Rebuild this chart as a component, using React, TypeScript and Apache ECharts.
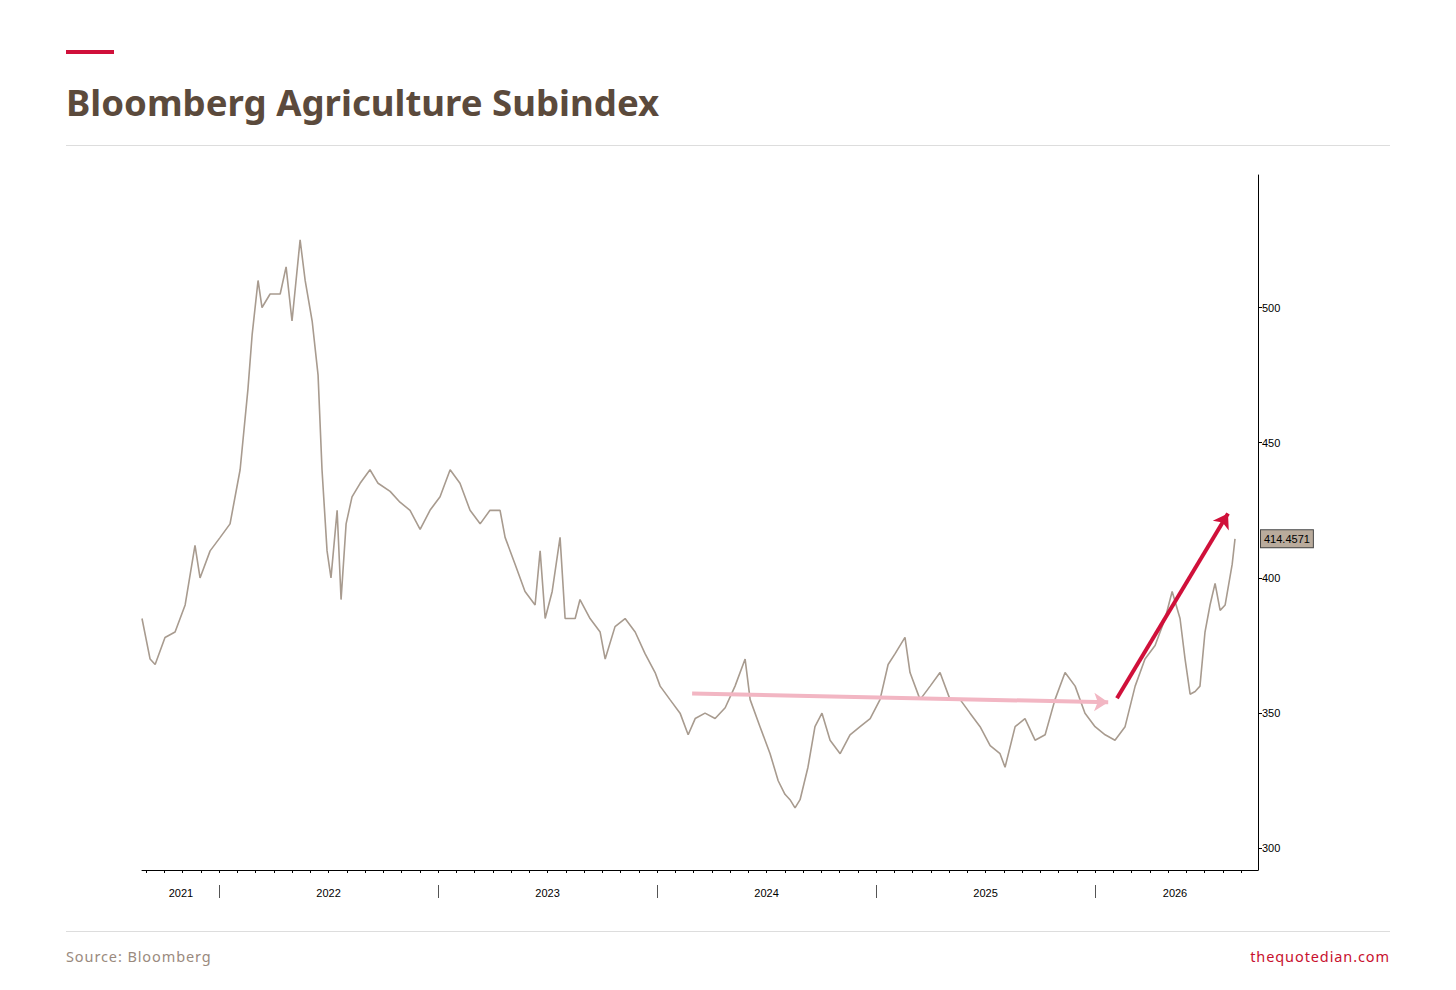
import React, { useEffect, useRef } from 'react';
import * as echarts from 'echarts';

// decimal years and index levels
const dates = [
  2021.648, 2021.685, 2021.708, 2021.753, 2021.799, 2021.845, 2021.89, 2021.913, 2021.959, 2022.005,
  2022.05, 2022.096, 2022.132, 2022.151, 2022.178, 2022.196, 2022.233, 2022.279, 2022.306, 2022.333,
  2022.37, 2022.393, 2022.425, 2022.452, 2022.47, 2022.493, 2022.511, 2022.539, 2022.557, 2022.58,
  2022.607, 2022.644, 2022.689, 2022.726, 2022.781, 2022.826, 2022.872, 2022.918, 2022.963, 2023.009,
  2023.055, 2023.1, 2023.146, 2023.192, 2023.237, 2023.283, 2023.306, 2023.352, 2023.397, 2023.443,
  2023.466, 2023.489, 2023.521, 2023.557, 2023.58, 2023.626, 2023.648, 2023.694, 2023.74, 2023.763,
  2023.808, 2023.854, 2023.9, 2023.945, 2023.991, 2024.014, 2024.059, 2024.105, 2024.142, 2024.174,
  2024.219, 2024.265, 2024.311, 2024.356, 2024.402, 2024.425, 2024.47, 2024.516, 2024.553, 2024.584,
  2024.607, 2024.63, 2024.653, 2024.689, 2024.721, 2024.753, 2024.79, 2024.836, 2024.881, 2024.927,
  2024.973, 2025.018, 2025.055, 2025.087, 2025.132, 2025.155, 2025.201, 2025.247, 2025.292, 2025.338,
  2025.384, 2025.429, 2025.475, 2025.521, 2025.566, 2025.589, 2025.635, 2025.68, 2025.726, 2025.772,
  2025.817, 2025.863, 2025.909, 2025.954, 2026.0, 2026.046, 2026.091, 2026.137, 2026.183, 2026.228,
  2026.274, 2026.32, 2026.352, 2026.388, 2026.411, 2026.434, 2026.457, 2026.479, 2026.502, 2026.525,
  2026.548, 2026.571, 2026.594, 2026.626, 2026.639,
];
const values = [
  385, 370, 368, 378, 380, 390, 412, 400, 410, 415,
  420, 440, 470, 490, 510, 500, 505, 505, 515, 495,
  525, 510, 495, 475, 440, 410, 400, 425, 392, 420,
  430, 435, 440, 435, 432, 428, 425, 418, 425, 430,
  440, 435, 425, 420, 425, 425, 415, 405, 395, 390,
  410, 385, 395, 415, 385, 385, 392, 385, 380, 370,
  382, 385, 380, 372, 365, 360, 355, 350, 342, 348,
  350, 348, 352, 360, 370, 355, 345, 335, 325, 320,
  318, 315, 318, 330, 345, 350, 340, 335, 342, 345,
  348, 355, 368, 372, 378, 365, 355, 360, 365, 355,
  355, 350, 345, 338, 335, 330, 345, 348, 340, 342,
  355, 365, 360, 350, 345, 342, 340, 345, 360, 370,
  375, 385, 395, 385, 370, 357, 358, 360, 380, 390,
  398, 388, 390, 405, 414.4571,
];
const yTicks = [300, 350, 400, 450, 500];
const yearLabelPos = [2021.826, 2022.5, 2023.5, 2024.5, 2025.5, 2026.365];
const yearBreaks = [2022, 2023, 2024, 2025, 2026];
const flatArrow = [[2024.16, 357.3], [2026.06, 354]];
const upArrow = [[2026.1, 355.5], [2026.607, 423.8]];
const lastLabel = '414.4571';

const monthTicks: number[] = [];
for (let y = 2021; y < 2027; y++) {
  for (let m = 0; m < 12; m++) {
    const v = +(y + m / 12).toFixed(4);
    if (v >= 2021.648 && v <= 2026.744) monthTicks.push(v);
  }
}

const App: React.FC = () => {
  const chartRef = useRef<HTMLDivElement>(null);

  useEffect(() => {
    document.body.style.margin = '0';
    if (!chartRef.current) return;
    const chart = echarts.init(chartRef.current, undefined, { renderer: 'svg' });
    chart.setOption({
      animation: false,
      grid: { left: 142, right: 198, top: 175, bottom: 120 },
      xAxis: [
        {
          type: 'value',
          min: 2021.648,
          max: 2026.744,
          splitLine: { show: false },
          axisLine: { lineStyle: { color: '#000' } },
          axisTick: { customValues: monthTicks, length: 3, lineStyle: { color: '#000' } },
          axisLabel: {
            customValues: yearLabelPos,
            formatter: (v: number) => String(Math.floor(v)),
            color: '#000',
            fontSize: 11,
            margin: 17,
          },
        },
        {
          type: 'value',
          position: 'bottom',
          offset: 15,
          min: 2021.648,
          max: 2026.744,
          splitLine: { show: false },
          axisLine: { show: false },
          axisTick: { customValues: yearBreaks, length: 13, lineStyle: { color: '#555' } },
          axisLabel: { show: false },
        },
      ],
      yAxis: {
        type: 'value',
        position: 'right',
        min: 292,
        max: 549,
        splitLine: { show: false },
        axisLine: { show: true, lineStyle: { color: '#000' } },
        axisTick: { show: true, customValues: yTicks, length: 4, lineStyle: { color: '#000' } },
        axisLabel: { customValues: yTicks, color: '#000', fontSize: 11, margin: 4 },
      },
      series: [
        {
          type: 'line',
          data: dates.map((d, i) => [d, values[i]]),
          showSymbol: false,
          lineStyle: { color: '#a89b8f', width: 1.6 },
          endLabel: {
            show: true,
            formatter: lastLabel,
            distance: 26,
            backgroundColor: '#b9ab9c',
            borderColor: '#444',
            borderWidth: 1,
            padding: [3, 3],
            color: '#000',
            fontSize: 11,
          },
          markLine: {
            silent: true,
            symbol: ['none', 'arrow'],
            symbolSize: [14, 14],
            label: { show: false },
            data: [
              [
                { coord: flatArrow[0], lineStyle: { color: '#f2b6c3', width: 4, type: 'solid' } },
                { coord: flatArrow[1] },
              ],
              [
                { coord: upArrow[0], lineStyle: { color: '#d0103a', width: 4, type: 'solid' } },
                { coord: upArrow[1] },
              ],
            ],
          },
        },
      ],
    });
    return () => chart.dispose();
  }, []);

  return (
    <div style={{ position: 'relative', width: 1456, height: 990, background: '#fff', fontFamily: '"Noto Sans", sans-serif' }}>
      <div style={{ position: 'absolute', left: 66, top: 50, width: 48, height: 4, background: '#d0103a' }} />
      <div style={{ position: 'absolute', left: 66, top: 77, fontSize: 36.6, fontWeight: 700, color: '#5b4a3c' }}>
        Bloomberg Agriculture Subindex
      </div>
      <div style={{ position: 'absolute', left: 66, top: 145, width: 1324, height: 1, background: '#ddd' }} />
      <div ref={chartRef} style={{ position: 'absolute', left: 0, top: 0, width: 1456, height: 990 }} />
      <div style={{ position: 'absolute', left: 66, top: 931, width: 1324, height: 1, background: '#ddd' }} />
      <div style={{ position: 'absolute', left: 66, top: 946, fontSize: 14.5, letterSpacing: 0.9, color: '#9a8a7e' }}>
        Source: Bloomberg
      </div>
      <div style={{ position: 'absolute', right: 66, top: 946, fontSize: 14.5, letterSpacing: 0.9, color: '#c8102e' }}>
        thequotedian.com
      </div>
    </div>
  );
};

export default App;
